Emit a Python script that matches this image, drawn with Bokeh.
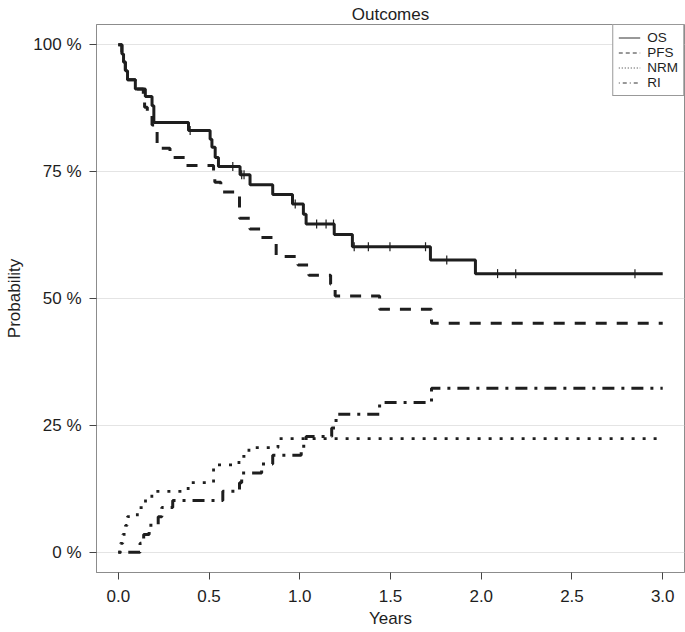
import numpy as np
from bokeh.plotting import figure
from bokeh.models import (Range1d, FixedTicker, PrintfTickFormatter,
                          Legend, LegendItem)
from bokeh.embed import file_html
from bokeh.resources import INLINE

# ---------------- data ----------------
T_END = 3.0

os_t = [0, 0.020, 0.029, 0.039, 0.051, 0.094, 0.149, 0.186, 0.196, 0.387,
        0.506, 0.516, 0.534, 0.552, 0.671, 0.726, 0.851, 0.960, 1.020, 1.035,
        1.190, 1.290, 1.720, 1.968]
os_p = [100, 98.2, 96.6, 94.9, 93.1, 91.3, 89.8, 88.0, 84.7, 83.1,
        81.4, 79.8, 77.8, 76.0, 74.4, 72.4, 70.5, 68.6, 66.6, 64.7,
        62.6, 60.2, 57.6, 54.9]
os_censor = [0.396, 0.631, 0.680, 0.693, 0.975, 1.093, 1.145, 1.186, 1.300,
             1.378, 1.497, 1.693, 1.810, 2.090, 2.190, 2.847]

pfs_t = [0, 0.020, 0.029, 0.039, 0.051, 0.094, 0.138, 0.145, 0.160, 0.186,
         0.214, 0.285, 0.370, 0.525, 0.532, 0.565, 0.668, 0.725, 0.785, 0.870,
         0.990, 1.050, 1.170, 1.195, 1.440, 1.726]
pfs_p = [100, 98.2, 96.6, 94.9, 93.1, 91.3, 89.5, 87.7, 86.0, 84.2,
         79.6, 77.8, 76.2, 74.5, 72.9, 71.0, 65.8, 63.7, 62.0, 58.3,
         56.6, 54.6, 52.8, 50.5, 47.9, 45.1]

nrm_t = [0, 0.012, 0.025, 0.040, 0.050, 0.105, 0.150, 0.185, 0.385, 0.525,
         0.665, 0.720, 0.880]
nrm_p = [0, 1.75, 3.5, 5.3, 7.0, 8.8, 10.5, 12.0, 13.7, 17.2,
         18.9, 20.6, 22.4]

ri_t = [0, 0.120, 0.140, 0.170, 0.220, 0.240, 0.300, 0.576, 0.668, 0.680,
        0.790, 0.851, 1.008, 1.035, 1.176, 1.200, 1.440, 1.726]
ri_p = [0, 1.75, 3.5, 5.3, 7.0, 8.8, 10.2, 12.0, 13.7, 15.6,
        17.4, 19.1, 20.9, 22.8, 24.5, 27.2, 29.5, 32.3]

x_ticks = [0, 0.5, 1.0, 1.5, 2.0, 2.5, 3.0]
y_ticks = [0, 25, 50, 75, 100]
series_names = ["OS", "PFS", "NRM", "RI"]

# ---------------- figure ----------------
FONT = "Liberation Sans"
INK = "#1e1e1e"

p = figure(width=685, height=632, output_backend="svg", toolbar_location=None,
           title="Outcomes",
           x_range=Range1d(-0.12, 3.12), y_range=Range1d(-4, 104),
           min_border_left=96, min_border_right=1, min_border_top=24,
           min_border_bottom=60)
p.background_fill_color = "white"
p.border_fill_color = "white"
p.outline_line_color = "#8c8c8c"
p.outline_line_width = 1

p.title.align = "center"
p.title.text_font = FONT
p.title.text_font_size = "17px"
p.title.text_font_style = "normal"
p.title.text_color = INK
p.title.standoff = 2
p.title.text_line_height = 1.0

p.xgrid.grid_line_color = None
p.ygrid.grid_line_color = "#e4e4e4"
p.ygrid.grid_line_width = 1

p.xaxis.ticker = FixedTicker(ticks=x_ticks)
p.xaxis.formatter = PrintfTickFormatter(format="%.1f")
p.yaxis.ticker = FixedTicker(ticks=y_ticks)
p.yaxis.formatter = PrintfTickFormatter(format="%d %%")
for ax in (p.xaxis, p.yaxis):
    ax.axis_line_color = "#8c8c8c"
    ax.major_tick_line_color = "#444444"
    ax.major_tick_out = 7
    ax.major_tick_in = 0
    ax.minor_tick_line_color = None
    ax.major_label_text_font = FONT
    ax.major_label_text_font_size = "17px"
    ax.major_label_text_color = INK
    ax.major_label_standoff = 8
    ax.axis_label_text_font = FONT
    ax.axis_label_text_font_size = "17px"
    ax.axis_label_text_font_style = "normal"
    ax.axis_label_text_color = INK
p.xaxis.major_label_standoff = 10
p.xaxis.axis_label = "Years"
p.xaxis.axis_label_standoff = 4
p.yaxis.axis_label = "Probability"
p.yaxis.axis_label_standoff = 6


def stepped(t, v):
    return list(t) + [T_END], list(v) + [v[-1]]


LW = 3
x, y = stepped(os_t, os_p)
p.step(x, y, mode="after", line_color=INK, line_width=LW)
x, y = stepped(pfs_t, pfs_p)
p.step(x, y, mode="after", line_color=INK, line_width=LW, line_dash="11 10")
x, y = stepped(nrm_t, nrm_p)
p.step(x, y, mode="after", line_color=INK, line_width=2.8, line_dash="3 8")
x, y = stepped(ri_t, ri_p)
p.step(x, y, mode="after", line_color=INK, line_width=LW, line_dash="3 7 12 7")

# censor marks on OS
idx = np.searchsorted(np.array(os_t), np.array(os_censor), side="right") - 1
cens_y = [os_p[i] for i in idx]
p.scatter(os_censor, cens_y, marker="dash", angle=np.pi / 2, size=9,
          line_color=INK, line_width=1.2)

# legend with thin sample lines (renderers hold no visible points)
dashes = ["solid", "4 3", "1 2", "1 3 4 3"]
nan2 = np.array([np.nan, np.nan])
items = []
for name, d in zip(series_names, dashes):
    r = p.line(nan2, nan2, line_color="#333333", line_width=1, line_dash=d)
    items.append(LegendItem(label=name, renderers=[r]))
legend = Legend(items=items, location="top_right", margin=0, padding=5,
                spacing=0, glyph_width=22, glyph_height=13, label_height=13,
                label_standoff=7, label_text_font=FONT,
                label_text_font_size="13.5px", label_text_line_height=1.0,
                label_text_color=INK,
                border_line_color="#333333", border_line_width=1,
                background_fill_color="white", background_fill_alpha=1)
p.add_layout(legend)

open("out.html", "w").write(file_html(p, INLINE))
